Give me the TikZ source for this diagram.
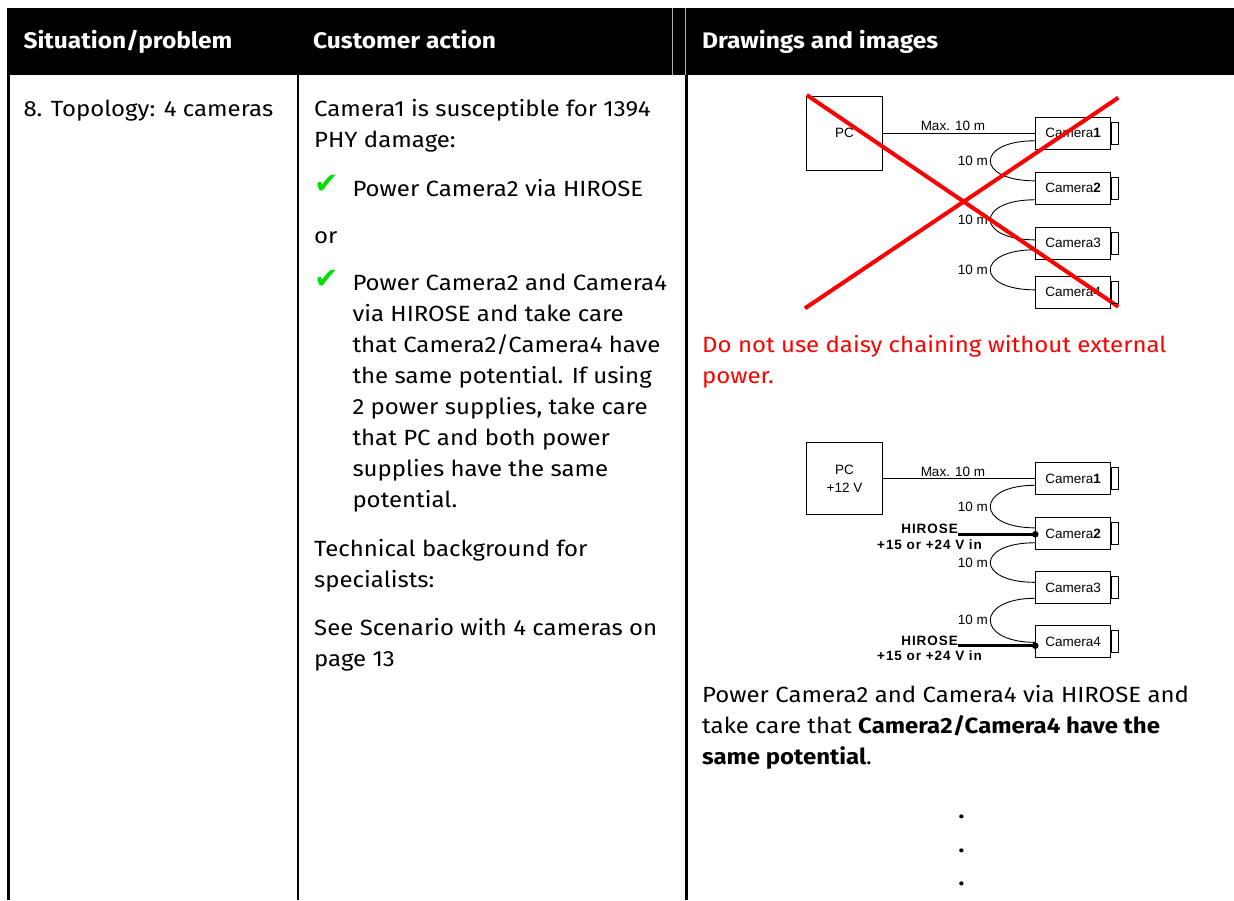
\documentclass[tikz,border=0pt]{standalone}
\usepackage{fontspec}
\setmainfont{Fira Sans}[FakeStretch=1.09]
\newfontfamily\diafont{Liberation Sans}
\newfontfamily\hirofont{Liberation Sans}[LetterSpace=7]
\newfontfamily\symfont{DejaVu Sans}
\usetikzlibrary{positioning}
\definecolor{okgreen}{RGB}{0,225,0}

\begin{document}
\begin{tikzpicture}[x=1pt,y=-1pt,node distance=54.5pt,
    txt node/.style={anchor=base west,align=left,inner sep=0pt,font=\fontsize{22}{31}\selectfont},
    head node/.style={anchor=base west,inner sep=0pt,text=white,font=\fontsize{22.5}{26}\selectfont\bfseries},
    chk node/.style={anchor=base west,inner sep=0pt,text=okgreen,font=\symfont\fontsize{29}{29}\selectfont},
    cam node/.style={draw,line width=0.9pt,minimum width=75pt,minimum height=32pt,inner sep=0pt,font=\diafont\fontsize{13.5}{15}\selectfont},
    pc node/.style={draw,line width=0.9pt,minimum width=75.5pt,minimum height=74pt,align=center,font=\diafont\fontsize{13.5}{18}\selectfont},
    len node/.style={inner sep=2pt,font=\diafont\fontsize{13.5}{15}\selectfont},
    hirose node/.style={inner sep=0pt,font=\hirofont\bfseries\fontsize{13.5}{15}\selectfont}]
  \useasboundingbox (0,0) rectangle (1234,900);

  % table frame
  \fill[black] (7,8.3) rectangle (1234,75);
  \draw[gray!60,line width=0.5pt] (672,8.3) -- (672,75) (685,8.3) -- (685,75);
  \draw[line width=2.5pt] (8.5,8.3) -- (8.5,900) (298,75) -- (298,900) (686.7,75) -- (686.7,900);
  \node[head node] (h1) at (23.3,48) {Situation/problem};
  \node[head node] (h2) at (313,48) {Customer action};
  \node[head node] (h3) at (702,48) {Drawings and images};

  % situation (base = last line)
  \node[txt node] (sit) at (23.3,116) {8. Topology: 4 cameras};

  % customer action
  \node[txt node] (act1) at (314,147.7) {Camera1 is susceptible for 1394\\PHY damage:};
  \node[chk node] (chk1) at (314,193) {✔};
  \node[txt node] (act2) at (352.3,196) {Power Camera2 via HIROSE};
  \node[txt node] (act3) at (314,243) {or};
  \node[chk node] (chk2) at (314,288) {✔};
  \node[txt node] (act4) at (352.3,507) {Power Camera2 and Camera4\\via HIROSE and take care\\that Camera2/Camera4 have\\the same potential. If using\\2 power supplies, take care\\that PC and both power\\supplies have the same\\potential.};
  \node[txt node] (act5) at (314,587.7) {Technical background for\\specialists:};
  \node[txt node] (act6) at (314,666) {See Scenario with 4 cameras on\\page 13};

  % drawing 1: daisy chain, crossed out
  \node[cam node] (a1) at (1073.2,133.3) {Camera\textbf{1}};
  \node[cam node] (a2) [below of=a1, node distance=55pt] {Camera\textbf{2}};
  \node[cam node] (a3) [below of=a2, node distance=55pt] {Camera3};
  \node[cam node] (a4) [below of=a3, node distance=49pt] {Camera4};
  \node[pc node] (pc1) [left of=a1, node distance=228.7pt] {PC};

  \draw[line width=0.9pt] (pc1.east) -- (pc1.east -| a1.west) node[len node, pos=0.46, above] {Max. 10 m};
  \draw[line width=0.9pt] ([yshift=9pt]a1.south west) .. controls +(-60,0) and +(-60,0) .. ([yshift=-9pt]a2.north west) node[len node, pos=0.5, left] {10 m};
  \draw[line width=0.9pt] ([yshift=5pt]a2.south west) .. controls +(-60,0) and +(-60,0) .. ([yshift=-13pt]a3.north west) node[len node, pos=0.5, left] {10 m};
  \draw[line width=0.9pt] ([yshift=10pt]a3.south west) .. controls +(-60,0) and +(-60,0) .. ([yshift=-14pt]a4.north west) node[len node, pos=0.5, left] {10 m};

  \draw[red,line width=4pt] (806.7,95) -- (1118.3,306.7) (805,308.3) -- (1118.3,97.7);

  \node[txt node, text=red] (warn) at (702,383.3) {Do not use daisy chaining without external\\power.};

  % drawing 2: powered via HIROSE
  \node[cam node] (b1) at (1073.2,478.8) {Camera\textbf{1}};
  \node[cam node] (b2) [below of=b1, node distance=55pt] {Camera\textbf{2}};
  \node[cam node] (b3) [below of=b2, node distance=54pt] {Camera3};
  \node[cam node] (b4) [below of=b3, node distance=54pt] {Camera4};
  \node[pc node, minimum height=72pt] (pc2) [left of=b1, node distance=228.7pt] {PC\\+12 V};

  \draw[line width=0.9pt] (pc2.east) -- (pc2.east -| b1.west) node[len node, pos=0.46, above] {Max. 10 m};
  \draw[line width=0.9pt] ([yshift=10pt]b1.south west) .. controls +(-60,0) and +(-60,0) .. ([yshift=-10.5pt]b2.north west) node[len node, pos=0.5, left] {10 m};
  \draw[line width=0.9pt] ([yshift=7.5pt]b2.south west) .. controls +(-60,0) and +(-60,0) .. ([yshift=-11pt]b3.north west) node[len node, pos=0.5, left] {10 m};
  \draw[line width=0.9pt] ([yshift=6pt]b3.south west) .. controls +(-60,0) and +(-60,0) .. ([yshift=-17pt]b4.north west) node[len node, pos=0.5, left] {10 m};

  \coordinate (p2) at (958,534.3);
  \coordinate (p4) at (958,645.7);
  \node[hirose node, anchor=south east] (hr2) at (p2) {HIROSE};
  \node[hirose node, below=5pt of hr2] (v2) {+15 or +24 V in};
  \node[hirose node, anchor=south east] (hr4) at (p4) {HIROSE};
  \node[hirose node, below=5pt of hr4] (v4) {+15 or +24 V in};
  \draw[line width=2.5pt] (p2) -- (p2 -| b2.west);
  \draw[line width=2.5pt] (p4) -- (p4 -| b4.west);
  \fill (p2 -| b2.west) circle (3.3pt) (p4 -| b4.west) circle (3.3pt);

  % connector tabs
  \foreach \c in {a1,a2,a3,a4,b1,b2,b3,b4}
    \draw[line width=0.9pt] (\c.east) ++(0,-11) rectangle ++(7.5,22);

  \node[txt node] (note) at (702,764.3) {Power Camera2 and Camera4 via HIROSE and\\take care that \textbf{Camera2/Camera4 have the}\\\textbf{same potential}.};
  \node[txt node, anchor=base] (d1) at (961.5,818) {\textbf{.}};
  \node[txt node, anchor=base] (d2) at (961.5,852) {\textbf{.}};
  \node[txt node, anchor=base] (d3) at (961.5,885) {\textbf{.}};
\end{tikzpicture}
\end{document}
